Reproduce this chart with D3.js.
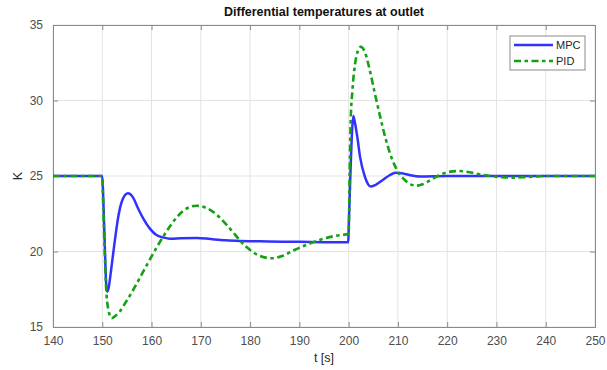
<!DOCTYPE html>
<html>
<head>
<meta charset="utf-8">
<script src="https://cdn.jsdelivr.net/npm/d3@7"></script>
<style>
  body { margin: 0; background: #fff; }
  svg { font-family: "Liberation Sans", Arial, sans-serif; }
</style>
</head>
<body>
<div id="chart-area"></div>
<script>
// values
var mpcTime = [140, 150, 150.2, 150.5, 150.8, 151.0, 151.3, 151.8, 152.5, 153.3, 154.2, 155.2, 156.2, 157.2, 158.3, 159.7, 161.0, 162.4, 163.7, 166, 169.2, 172, 175, 178, 182, 186.7, 190, 195, 199.9,
    200.1, 200.4, 200.7, 200.95, 201.3, 201.8, 202.3, 203.3, 204.5, 205.5, 207, 208.3, 209.5, 210.8, 212.5, 214.5, 220, 250];
var mpcVals = [25, 25, 23.5, 20.5, 17.8, 17.34, 17.6, 18.8, 20.6, 22.4, 23.5, 23.85, 23.6, 22.9, 22.2, 21.5, 21.09, 20.93, 20.85, 20.88, 20.9, 20.82, 20.74, 20.7, 20.68, 20.65, 20.64, 20.62, 20.61,
    22.5, 25.5, 28.0, 28.97, 28.5, 27.5, 26.3, 24.95, 24.3, 24.42, 24.75, 25.05, 25.22, 25.18, 25.05, 24.97, 25, 25];

var pidTime = [140, 150, 150.2, 150.5, 150.8, 151.2, 151.9, 152.7, 153.5, 154.3, 156, 157.7, 159.7, 161.0, 162.4, 163.7, 165.5, 167.3, 169.2, 171, 173, 175, 177, 178, 180, 182, 184.4, 186.5, 189, 192.2, 195, 197.5, 199.6, 200.0,
    200.2, 200.4, 200.8, 201.3, 201.9, 202.5, 203.3, 204.3, 205.3, 206.4, 207.4, 208.4, 209.5, 210.4, 211.5, 212.7, 213.8, 215, 216.7, 218.5, 220.3, 222.3, 224.5, 226.5, 228.7, 231, 233.4, 236, 240, 250];
var pidVals = [25, 25, 23, 20, 17.5, 16.2, 15.58, 15.75, 16.0, 16.4, 17.3, 18.3, 19.5, 20.25, 21.0, 21.65, 22.4, 22.88, 23.03, 22.9, 22.5, 21.85, 21.1, 20.7, 20.1, 19.7, 19.55, 19.7, 20.1, 20.54, 20.85, 21.05, 21.14, 21.2,
    25, 28.5, 30.8, 32.4, 33.3, 33.56, 33.2, 32.0, 30.5, 28.93, 27.6, 26.5, 25.6, 25.1, 24.7, 24.43, 24.36, 24.45, 24.75, 25.07, 25.27, 25.33, 25.25, 25.12, 25.0, 24.92, 24.89, 24.93, 25, 25];

var xTicks = [140, 150, 160, 170, 180, 190, 200, 210, 220, 230, 240, 250];
var yTicks = [15, 20, 25, 30, 35];
var seriesNames = ["MPC", "PID"];

var width = 607, height = 370;
var pLeft = 53, pRight = 595, pTop = 25, pBottom = 327;

var svg = d3.select("#chart-area").append("svg")
    .attr("width", width)
    .attr("height", height);

var x = d3.scaleLinear().domain([140, 250]).range([pLeft, pRight]);
var y = d3.scaleLinear().domain([15, 35]).range([pBottom, pTop]);

// grid
svg.append("g").selectAll("line").data(xTicks).enter().append("line")
    .attr("x1", d => x(d)).attr("x2", d => x(d))
    .attr("y1", pTop).attr("y2", pBottom)
    .attr("stroke", "#e3e3e3").attr("stroke-width", 1);
svg.append("g").selectAll("line").data(yTicks).enter().append("line")
    .attr("x1", pLeft).attr("x2", pRight)
    .attr("y1", d => y(d)).attr("y2", d => y(d))
    .attr("stroke", "#e3e3e3").attr("stroke-width", 1);

// axes, ticks pointing inwards like matlab
var axColor = "#8a8a8a";
var xb = svg.append("g").attr("transform", "translate(0," + pBottom + ")")
    .call(d3.axisBottom(x).tickValues(xTicks).tickSize(-5).tickPadding(9));
var xt = svg.append("g").attr("transform", "translate(0," + pTop + ")")
    .call(d3.axisTop(x).tickValues(xTicks).tickSize(-5).tickFormat(""));
var yl = svg.append("g").attr("transform", "translate(" + pLeft + ",0)")
    .call(d3.axisLeft(y).tickValues(yTicks).tickSize(-5).tickPadding(10));
var yr = svg.append("g").attr("transform", "translate(" + pRight + ",0)")
    .call(d3.axisRight(y).tickValues(yTicks).tickSize(-5).tickFormat(""));

[xb, xt, yl, yr].forEach(function(g) {
    g.select(".domain").attr("stroke", axColor);
    g.selectAll(".tick line").attr("stroke", axColor);
    g.selectAll("text").attr("fill", "#4d4d4d").style("font-size", "12px")
        .style("font-family", "'Liberation Sans', Arial, sans-serif");
});

// lines
var mpcData = mpcTime.map((t, i) => ({t: t, v: mpcVals[i]}));
var pidData = pidTime.map((t, i) => ({t: t, v: pidVals[i]}));

var line = d3.line()
    .x(d => x(d.t))
    .y(d => y(d.v))
    .curve(d3.curveMonotoneX);

var pidDash = "7,3.5,3.5,3.5";

svg.append("path").datum(mpcData)
    .attr("d", line)
    .attr("fill", "none")
    .attr("stroke", "#3232ff")
    .attr("stroke-width", 2.5);

svg.append("path").datum(pidData)
    .attr("d", line)
    .attr("fill", "none")
    .attr("stroke", "#16a016")
    .attr("stroke-width", 2.6)
    .attr("stroke-dasharray", pidDash);

// title and labels
svg.append("text")
    .attr("x", (pLeft + pRight) / 2).attr("y", 16)
    .attr("text-anchor", "middle")
    .style("font-size", "12.5px").style("font-weight", "bold")
    .attr("fill", "#111")
    .text("Differential temperatures at outlet");

svg.append("text")
    .attr("x", (pLeft + pRight) / 2).attr("y", 362)
    .attr("text-anchor", "middle")
    .style("font-size", "12.5px")
    .attr("fill", "#262626")
    .text("t [s]");

svg.append("text")
    .attr("transform", "translate(22," + ((pTop + pBottom) / 2) + ") rotate(-90)")
    .attr("text-anchor", "middle")
    .style("font-size", "12.5px")
    .attr("fill", "#262626")
    .text("K");

// legend
var lg = svg.append("g").attr("transform", "translate(510,36)");
lg.append("rect")
    .attr("width", 75).attr("height", 34)
    .attr("fill", "#fff").attr("stroke", "#8a8a8a");
var styles = [{c: "#3232ff", dash: null}, {c: "#16a016", dash: pidDash}];
seriesNames.forEach(function(name, i) {
    var yy = 9 + i * 16;
    var l = lg.append("line")
        .attr("x1", 4).attr("x2", 43)
        .attr("y1", yy).attr("y2", yy)
        .attr("stroke", styles[i].c).attr("stroke-width", 2.5);
    if (styles[i].dash) l.attr("stroke-dasharray", styles[i].dash);
    lg.append("text")
        .attr("x", 46).attr("y", yy + 4)
        .style("font-size", "11px")
        .attr("fill", "#262626")
        .text(name);
});
</script>
</body>
</html>
